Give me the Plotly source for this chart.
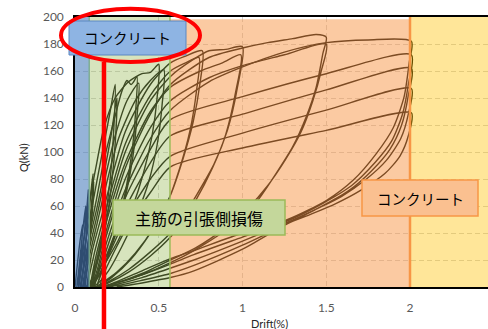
import plotly.graph_objects as go

# ---------------------------------------------------------------------------
# Hysteresis record: drift (%) vs. shear force Q (kN).
# Each loading level is one continuous path (loading -> peak -> unloading),
# two or more cycles per level.
# ---------------------------------------------------------------------------
DRIFT_SMALL = [0.000, 0.015, 0.030, 0.045, 0.040, 0.030, 0.018, 0.010,
               0.020, 0.035, 0.050, 0.064, 0.058, 0.045, 0.030, 0.022,
               0.030, 0.045, 0.060, 0.072, 0.080, 0.073, 0.060, 0.045, 0.035]
Q_SMALL = [0, 18, 34, 46, 30, 14, 4, 0,
           10, 28, 46, 60, 42, 22, 6, 0,
           8, 24, 42, 60, 72, 50, 26, 8, 0]

DRIFT_010 = [0.035, 0.050, 0.070, 0.085, 0.100, 0.108, 0.100, 0.088, 0.070, 0.055, 0.045,
             0.050, 0.070, 0.085, 0.100, 0.112, 0.105, 0.090, 0.075, 0.060]
Q_010 = [0, 16, 40, 58, 76, 84, 62, 42, 20, 5, 0,
         0, 22, 42, 64, 78, 58, 36, 15, 0]

DRIFT_025 = [0.020, 0.050, 0.085, 0.130, 0.173, 0.210, 0.240,
             0.232, 0.210, 0.173, 0.130, 0.090, 0.060,
             0.040, 0.085, 0.130, 0.173, 0.215, 0.250,
             0.242, 0.220, 0.190, 0.150, 0.110, 0.070]
Q_025 = [0, 24, 48, 78, 106, 130, 150,
         118, 80, 45, 18, 3, 0,
         0, 34, 58, 84, 112, 140,
         110, 78, 50, 26, 8, 0]

DRIFT_0375 = [0.030, 0.085, 0.130, 0.173, 0.230, 0.280, 0.310, 0.335, 0.350, 0.370,
              0.362, 0.340, 0.300, 0.250, 0.200, 0.173, 0.120, 0.080,
              0.050, 0.085, 0.130, 0.173, 0.240, 0.310, 0.380,
              0.370, 0.345, 0.300, 0.240, 0.173, 0.120, 0.080]
Q_0375 = [0, 38, 66, 94, 122, 145, 153, 150, 152, 156,
          130, 100, 70, 44, 26, 20, 6, 0,
          0, 28, 52, 77, 112, 138, 151,
          126, 96, 66, 38, 16, 4, 0]

DRIFT_050 = [0.020, 0.050, 0.085, 0.130, 0.173, 0.240, 0.320, 0.400, 0.450, 0.500,
             0.490, 0.460, 0.410, 0.340, 0.260, 0.173, 0.120, 0.090,
             0.060, 0.085, 0.130, 0.173, 0.260, 0.360, 0.450, 0.530,
             0.520, 0.490, 0.440, 0.370, 0.280, 0.200, 0.130, 0.100]
Q_050 = [0, 34, 62, 92, 118, 140, 152, 158, 159, 165,
         140, 112, 85, 58, 35, 16, 4, 0,
         0, 22, 46, 69, 110, 138, 153, 161,
         135, 105, 78, 54, 30, 12, 2, 0]

DRIFT_075 = [0.070, 0.100, 0.173, 0.300, 0.450, 0.570, 0.660, 0.760,
             0.745, 0.705, 0.645, 0.570, 0.470, 0.360, 0.250, 0.173, 0.120,
             0.080, 0.110, 0.173, 0.300, 0.450, 0.570, 0.660, 0.740,
             0.725, 0.685, 0.625, 0.550, 0.450, 0.330, 0.220, 0.140]
Q_075 = [0, 25, 59, 115, 150, 166, 171, 175,
         150, 122, 95, 68, 44, 25, 11, 4, 0,
         0, 22, 52, 106, 142, 160, 166, 170,
         145, 115, 88, 62, 40, 20, 7, 0]

DRIFT_100 = [0.090, 0.120, 0.173, 0.300, 0.450, 0.570, 0.700, 0.800, 0.900, 1.000,
             0.970, 0.910, 0.830, 0.730, 0.630, 0.570, 0.450, 0.320, 0.200, 0.130,
             0.100, 0.130, 0.173, 0.300, 0.450, 0.570, 0.750, 0.880, 0.990,
             0.960, 0.900, 0.820, 0.720, 0.620, 0.570, 0.450, 0.320, 0.200, 0.140]
Q_100 = [0, 20, 46, 100, 138, 156, 168, 175, 176, 178,
         148, 116, 91, 69, 49, 40, 26, 13, 4, 0,
         0, 20, 42, 92, 130, 148, 160, 166, 172,
         145, 113, 88, 64, 45, 37, 23, 11, 3, 0]

DRIFT_150 = [0.100, 0.130, 0.173, 0.300, 0.450, 0.570, 0.800, 1.000, 1.150, 1.300, 1.440, 1.500,
             1.480, 1.440, 1.380, 1.300, 1.200, 1.090, 1.000, 0.900, 0.710, 0.570, 0.400, 0.250, 0.150,
             0.110, 0.140, 0.173, 0.300, 0.450, 0.570, 0.800, 1.000, 1.250, 1.500,
             1.470, 1.420, 1.350, 1.260, 1.150, 1.030, 0.900, 0.720, 0.570, 0.400, 0.250, 0.160]
Q_150 = [0, 18, 36, 88, 128, 150, 170, 177, 181, 184, 187, 185,
         173, 148, 126, 104, 84, 64, 52, 42, 27, 18, 9, 3, 0,
         0, 16, 32, 80, 118, 138, 155, 164, 172, 180,
         160, 138, 115, 95, 75, 58, 44, 29, 20, 10, 3, 0]

DRIFT_200_A = [0.110, 0.140, 0.173, 0.300, 0.450, 0.570, 0.800, 1.000, 1.250, 1.500, 1.750, 2.008,
               1.995, 1.965, 1.900, 1.800, 1.660, 1.500, 1.270, 1.000, 0.710, 0.570, 0.400, 0.250, 0.160,
               0.120, 0.173, 0.300, 0.450, 0.570, 1.000, 1.500, 2.008,
               1.990, 1.955, 1.890, 1.790, 1.650, 1.480, 1.270, 1.000, 0.710, 0.570, 0.400, 0.250, 0.170]
Q_200_A = [0, 13, 27, 72, 110, 131, 152, 163, 174, 181, 183, 182,
           166, 141, 118, 99, 79, 64, 50, 40, 27, 21, 12, 4, 0,
           0, 22, 66, 102, 124, 141, 158, 172,
           150, 128, 108, 92, 75, 62, 49, 37, 24, 17, 9, 3, 0]

DRIFT_200_B = [0.130, 0.173, 0.300, 0.450, 0.570, 1.000, 1.500, 2.008,
               1.990, 1.950, 1.880, 1.770, 1.630, 1.460, 1.270, 1.000, 0.710, 0.570, 0.400, 0.250, 0.170,
               0.135, 0.173, 0.300, 0.450, 0.570, 1.000, 1.500, 2.008,
               1.990, 1.945, 1.860, 1.740, 1.590, 1.430, 1.270, 1.000, 0.710, 0.570, 0.400, 0.250, 0.180,
               0.150, 0.173, 0.300, 0.450, 0.570, 1.000, 1.500, 2.008,
               1.990, 1.940, 1.850, 1.710, 1.560, 1.410, 1.270, 1.000, 0.710, 0.570, 0.400, 0.250]
Q_200_B = [0, 18, 58, 92, 112, 128, 146, 162,
           142, 120, 102, 86, 71, 59, 48, 34, 20, 14, 7, 2, 0,
           0, 15, 50, 80, 97, 114, 131, 147,
           128, 110, 94, 80, 67, 57, 47, 31, 16, 10, 5, 1, 0,
           0, 10, 42, 70, 89, 103, 116, 129,
           112, 97, 84, 72, 62, 54, 47, 28, 12, 7, 3, 0]

PATHS = [
    (DRIFT_SMALL, Q_SMALL), (DRIFT_010, Q_010), (DRIFT_025, Q_025), (DRIFT_0375, Q_0375),
    (DRIFT_050, Q_050), (DRIFT_075, Q_075), (DRIFT_100, Q_100), (DRIFT_150, Q_150),
    (DRIFT_200_A, Q_200_A), (DRIFT_200_B, Q_200_B),
]

# damage zones along the drift axis
ZONE_EDGES = [0.0, 0.085, 0.567, 2.0]
RED_MARK_DRIFT = 0.173

X_MAX = 2.4657
Y_TICKS = [0, 20, 40, 60, 80, 100, 120, 140, 160, 180, 200]
X_TICKS = [0, 0.5, 1, 1.5, 2]
X_TICK_TEXT = ["0", "0.5", "1", "1.5", "2"]

fig = go.Figure()
for xs, qs in PATHS:
    fig.add_trace(go.Scatter(
        x=xs, y=qs, mode="lines",
        line=dict(color="#000000", width=1.4, shape="spline", smoothing=0.7),
        hoverinfo="skip", showlegend=False,
    ))

# --- plot-area geometry in pixels (used for the callout boxes) ---
W, H = 488, 329
ML, MR, MT, MB = 75, 0, 17, 42
PW, PH = W - ML - MR, H - MT - MB


def px(xp):
    return (xp - ML) / PW


def py(yp):
    return (H - MB - yp) / PH


shapes = [
    # translucent zone overlays
    dict(type="rect", xref="x", yref="y", x0=ZONE_EDGES[3], x1=X_MAX, y0=0, y1=200,
         fillcolor="rgba(255,192,0,0.4)", line=dict(width=0), layer="above"),
    dict(type="rect", xref="x", yref="y", x0=ZONE_EDGES[2], x1=ZONE_EDGES[3], y0=0, y1=198.3,
         fillcolor="rgba(247,150,70,0.5)", line=dict(width=0), layer="above"),
    dict(type="rect", xref="x", yref="y", x0=ZONE_EDGES[0], x1=ZONE_EDGES[1], y0=0, y1=200,
         fillcolor="rgba(79,129,189,0.6)", line=dict(width=0), layer="above"),
    dict(type="rect", xref="x", yref="y", x0=ZONE_EDGES[1], x1=ZONE_EDGES[2], y0=0, y1=200,
         fillcolor="rgba(155,187,89,0.4)", line=dict(width=0), layer="above"),
    dict(type="line", xref="x", yref="y", x0=ZONE_EDGES[1], x1=ZONE_EDGES[1], y0=0, y1=200,
         line=dict(color="rgba(120,170,140,0.9)", width=1.5), layer="above"),
    dict(type="line", xref="x", yref="y", x0=ZONE_EDGES[2], x1=ZONE_EDGES[2], y0=0, y1=200,
         line=dict(color="#9BBB59", width=1.5), layer="above"),
    dict(type="line", xref="x", yref="y", x0=ZONE_EDGES[3], x1=ZONE_EDGES[3], y0=0, y1=200,
         line=dict(color="#F79646", width=2.5), layer="above"),
    # callout boxes
    dict(type="rect", xref="paper", yref="paper", x0=px(69), x1=px(186), y0=py(55), y1=py(21),
         fillcolor="#8EB4E3", line=dict(color="#5B87C2", width=1), layer="above"),
    dict(type="rect", xref="paper", yref="paper", x0=px(113), x1=px(285), y0=py(235), y1=py(200),
         fillcolor="#C4D79B", line=dict(color="#9BBB59", width=1.5), layer="above"),
    dict(type="rect", xref="paper", yref="paper", x0=px(362), x1=px(478), y0=py(216), y1=py(180),
         fillcolor="#FAC090", line=dict(color="#F79646", width=1.5), layer="above"),
    # red marker line and ring
    dict(type="line", xref="x", yref="paper", x0=RED_MARK_DRIFT, x1=RED_MARK_DRIFT,
         y0=py(H), y1=py(62), line=dict(color="#FF0000", width=4.5), layer="above"),
    dict(type="circle", xref="paper", yref="paper", x0=px(61), x1=px(200), y0=py(62), y1=py(8.7),
         line=dict(color="#FF0000", width=4), fillcolor="rgba(0,0,0,0)", layer="above"),
]

jp_font = dict(family="Noto Sans CJK JP", size=14.5, color="#000000")
tick_font = dict(family="Lato", size=12, color="#595959")
annotations = [
    dict(text="コンクリート", xref="paper", yref="paper", x=px(127), y=py(38),
         showarrow=False, font=jp_font, xanchor="center", yanchor="middle"),
    dict(text="主筋の引張側損傷", xref="paper", yref="paper", x=px(199), y=py(217.5),
         showarrow=False, font=dict(family="Noto Sans CJK JP", size=16, color="#000000"),
         xanchor="center", yanchor="middle"),
    dict(text="コンクリート", xref="paper", yref="paper", x=px(420), y=py(198),
         showarrow=False, font=jp_font, xanchor="center", yanchor="middle"),
    dict(text="Q(kN)", xref="paper", yref="paper", x=px(23), y=py(157), textangle=-90,
         showarrow=False, font=dict(family="Lato", size=11, color="#262626"),
         xanchor="center", yanchor="middle"),
    dict(text="Drift(%)", xref="paper", yref="paper", x=px(269), y=py(323),
         showarrow=False, font=dict(family="Lato", size=11, color="#262626"),
         xanchor="center", yanchor="middle"),
]

grid = dict(showgrid=True, gridcolor="#D0D0D0", gridwidth=1, griddash="5px,3px")
fig.update_layout(
    width=W, height=H,
    margin=dict(l=ML, r=MR, t=MT, b=MB, pad=0),
    paper_bgcolor="#FFFFFF", plot_bgcolor="#FFFFFF",
    shapes=shapes, annotations=annotations,
    xaxis=dict(range=[0, X_MAX], tickvals=X_TICKS, ticktext=X_TICK_TEXT,
               showline=True, linecolor="#000000", linewidth=1.5, mirror=True,
               zeroline=False, ticks="", ticklabelstandoff=9,
               tickfont=tick_font, **grid),
    yaxis=dict(range=[0, 200], tickvals=Y_TICKS,
               showline=True, linecolor="#000000", linewidth=1.5,
               zeroline=False, ticks="", ticklabelstandoff=7,
               tickfont=tick_font, **grid),
)

fig.write_html("out.html")
